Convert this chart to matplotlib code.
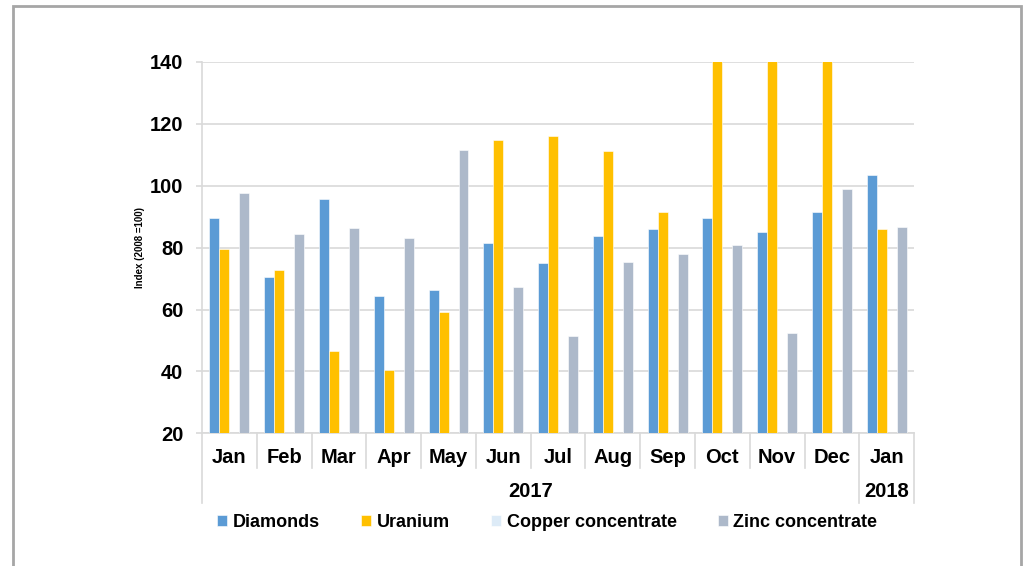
import matplotlib
matplotlib.use("Agg")
import matplotlib.pyplot as plt
import matplotlib.patches as mpatches
import numpy as np

plt.rcParams['font.family'] = ['Liberation Sans', 'DejaVu Sans']

months = ['Jan', 'Feb', 'Mar', 'Apr', 'May', 'Jun', 'Jul', 'Aug', 'Sep', 'Oct', 'Nov', 'Dec', 'Jan']
years = ['2017', '2018']
diamonds = [89.5, 70.6, 95.7, 64.3, 66.2, 81.6, 74.9, 83.8, 85.9, 89.5, 85.0, 91.6, 103.4]
uranium = [79.5, 72.7, 46.6, 40.4, 59.3, 114.9, 116.0, 111.3, 91.5, 160.0, 165.0, 170.0, 85.9]
copper = [np.nan] * 13
zinc = [97.8, 84.3, 86.5, 83.2, 111.5, 67.4, 51.4, 75.4, 78.0, 81.0, 52.5, 99.1, 86.6]

series = [('Diamonds', diamonds, '#5B9BD5'),
          ('Uranium', uranium, '#FFC000'),
          ('Copper concentrate', copper, '#DDEBF7'),
          ('Zinc concentrate', zinc, '#ADB9CA')]

fig = plt.figure(figsize=(10.23, 5.66), dpi=100)
ax = fig.add_axes([0.1975, 0.2345, 0.696, 0.656])

x = np.arange(len(months))
w = 0.1825
for i, (name, vals, col) in enumerate(series):
    ax.bar(x + (i - 1.5) * w, vals, w, color=col, label=name,
           edgecolor='white', linewidth=0.4, zorder=3)

ax.set_xlim(-0.5, len(months) - 0.5)
ax.set_ylim(20, 140)
ax.set_yticks(range(20, 141, 20))
ax.grid(axis='y', color='#D9D9D9', linewidth=1.2, zorder=0)
for s in ['top', 'right']:
    ax.spines[s].set_visible(False)
ax.spines['left'].set_color('#D9D9D9')
ax.spines['bottom'].set_color('#D9D9D9')
ax.spines['left'].set_linewidth(1.2)
ax.spines['bottom'].set_linewidth(1.2)
ax.tick_params(axis='y', length=4.5, color='#D9D9D9', width=1.2, pad=9,
               labelsize=14.5)
for t in ax.get_yticklabels():
    t.set_fontweight('bold')
ax.set_xticks([])
ax.set_ylabel('Index (2008 =100)', fontsize=7, fontweight='bold')
ax.yaxis.set_label_coords(-0.08, 0.5)

# category axis: month labels, separators, year labels
trans = ax.get_xaxis_transform()
for i, m in enumerate(months):
    ax.text(i, -0.0665, m, transform=trans, ha='center', va='center',
            fontsize=14.5, fontweight='bold')
for b in np.arange(-0.5, len(months), 1.0):
    low = -0.188 if b in (-0.5, 11.5, 12.5) else -0.0935
    ax.plot([b, b], [0, low], transform=trans, color='#D9D9D9',
            linewidth=1.2, clip_on=False)
ax.text(5.5, -0.157, years[0], transform=trans, ha='center', va='center',
        fontsize=14.5, fontweight='bold')
ax.text(12, -0.157, years[1], transform=trans, ha='center', va='center',
        fontsize=14.5, fontweight='bold')

leg = fig.legend(loc='center', bbox_to_anchor=(0.535, 0.0777), ncol=4,
                 frameon=False, prop={'size': 13, 'weight': 'bold'},
                 handlelength=0.55, handleheight=0.55, handletextpad=0.3,
                 columnspacing=2.3)

# outer frame
fig.patches.append(mpatches.Rectangle((0.0127, -0.05), 0.985, 1.04,
                                      transform=fig.transFigure, fill=False,
                                      edgecolor='#A6A6A6', linewidth=2))

fig.savefig('out.png', dpi=100)
